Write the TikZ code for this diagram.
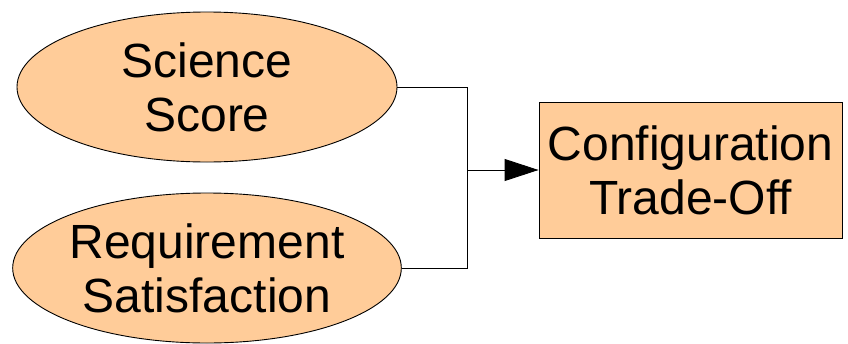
\documentclass[tikz,border=0pt]{standalone}
\usepackage{fontspec}
\setmainfont{Liberation Sans}
\usetikzlibrary{shapes.geometric,arrows.meta}
\definecolor{peach}{HTML}{FFCC99}
\tikzset{
  bubble/.style={ellipse,draw=black,line width=0.9pt,fill=peach,minimum width=380pt,minimum height=150pt,inner sep=0pt,align=center,font=\fontsize{48}{54}\selectfont},
  boxnode/.style={rectangle,draw=black,line width=0.9pt,fill=peach,minimum width=303pt,minimum height=136pt,inner sep=0pt,align=center,font=\fontsize{48}{54}\selectfont},
  wire/.style={draw=black,line width=0.9pt}
}
\begin{document}
\begin{tikzpicture}[x=1pt,y=-1pt]
\useasboundingbox (0,0) rectangle (848,343);
\node[bubble] (sci) at (207,87) {Science\\Score};
\node[bubble] (req) at (207,268) {Requirement\\Satisfaction};
\node[boxnode] (cfg) at (690.5,170) {Configuration\\Trade-Off};
\coordinate (j) at (467.5,170);
\draw[wire] (sci.east) -| (j) |- (req.east);
\draw[wire,-{Triangle[length=34pt,width=22pt]}] (j) -- (cfg.west);
\end{tikzpicture}
\end{document}
